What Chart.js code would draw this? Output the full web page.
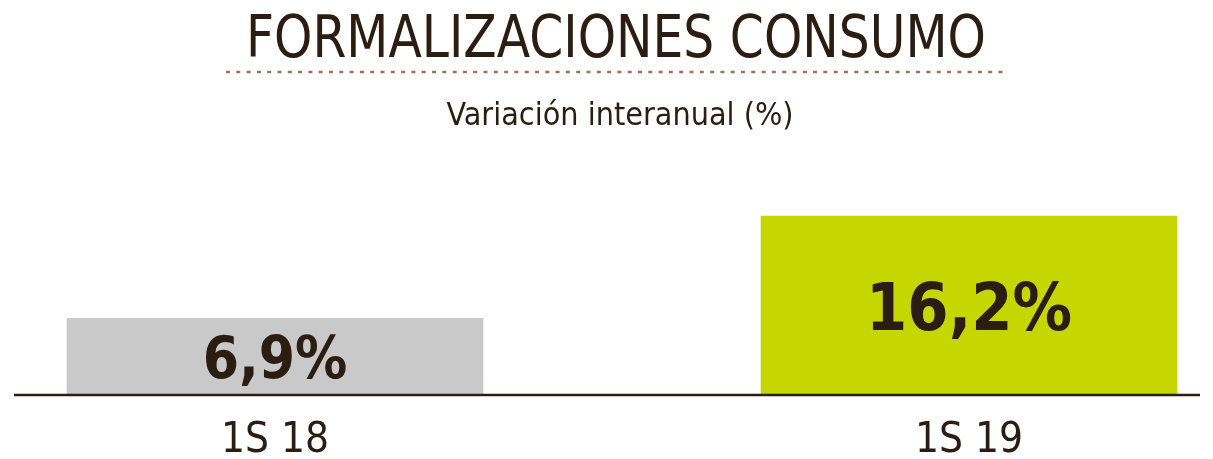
<!DOCTYPE html>
<html>
<head>
<meta charset="utf-8">
<script src="https://cdn.jsdelivr.net/npm/chart.js@4"></script>
<style>
  html, body { margin: 0; padding: 0; background: #fff; }
  #wrap { width: 1213px; height: 459px; }
</style>
</head>
<body>
<div id="wrap"><canvas id="grafica"></canvas></div>
<script>
const categorias = ["1S 18", "1S 19"];
const valores = [6.9, 16.2];
const colores = ["#c9c9c9", "#c6d600"];

const titulo = "FORMALIZACIONES CONSUMO";
const subtitulo = "Variación interanual (%)";

const TINTA = "#2b1d12";
const FUENTE = "'DejaVu Sans Condensed', 'DejaVu Sans', sans-serif";

// dibuja un texto centrado ajustado a un ancho dado
function textoAncho(ctx, texto, x, y, ancho) {
  const w = ctx.measureText(texto).width;
  ctx.save();
  ctx.translate(x, y);
  ctx.scale(ancho / w, 1);
  ctx.fillText(texto, 0, 0);
  ctx.restore();
}

// titulo, linea punteada, linea base y etiquetas de valor
const decoracion = {
  id: "decoracion",
  beforeDatasetsDraw(chart) {
    const ctx = chart.ctx;
    const cx = 616;
    ctx.save();
    ctx.fillStyle = TINTA;
    ctx.textAlign = "center";
    ctx.textBaseline = "alphabetic";
    ctx.font = "58px " + FUENTE;
    textoAncho(ctx, titulo, cx, 57, 740);
    ctx.font = "32px " + FUENTE;
    ctx.fillText(subtitulo, cx + 4, 125);

    ctx.strokeStyle = "#8f7a5c";
    ctx.lineWidth = 2.5;
    ctx.setLineDash([4, 6.3]);
    ctx.beginPath();
    ctx.moveTo(226, 72);
    ctx.lineTo(1006, 72);
    ctx.stroke();
    ctx.restore();
  },
  afterDatasetsDraw(chart) {
    const ctx = chart.ctx;
    const y0 = chart.scales.y.getPixelForValue(0);
    ctx.save();
    ctx.strokeStyle = TINTA;
    ctx.lineWidth = 2.5;
    ctx.beginPath();
    ctx.moveTo(14, y0 + 1);
    ctx.lineTo(1200, y0 + 1);
    ctx.stroke();

    const meta = chart.getDatasetMeta(0);
    ctx.fillStyle = TINTA;
    ctx.textAlign = "center";
    ctx.textBaseline = "alphabetic";
    meta.data.forEach((barra, i) => {
      const size = i === valores.length - 1 ? 66 : 58;
      ctx.font = "bold " + size + "px " + FUENTE;
      const texto = valores[i].toFixed(1).replace(".", ",") + "%";
      const centro = (barra.y + barra.base) / 2;
      ctx.fillText(texto, barra.x, centro + size * 0.729 / 2 + 1);
    });
    ctx.restore();
  }
};

new Chart(document.getElementById("grafica"), {
  type: "bar",
  data: {
    labels: categorias,
    datasets: [{
      data: valores,
      backgroundColor: colores,
      borderWidth: 0,
      barThickness: 416,
      clip: false
    }]
  },
  options: {
    responsive: true,
    maintainAspectRatio: false,
    animation: false,
    events: [],
    layout: { padding: { left: 275, right: 244, top: 169, bottom: 0 } },
    plugins: {
      legend: { display: false },
      tooltip: { enabled: false }
    },
    scales: {
      x: {
        offset: false,
        grid: { display: false, drawTicks: false },
        border: { display: false },
        ticks: {
          color: TINTA,
          padding: 22,
          font: { family: FUENTE, size: 42 }
        },
        afterFit(scale) { scale.height = 65; }
      },
      y: {
        display: false,
        min: 0,
        max: 20.5
      }
    }
  },
  plugins: [decoracion]
});
</script>
</body>
</html>
